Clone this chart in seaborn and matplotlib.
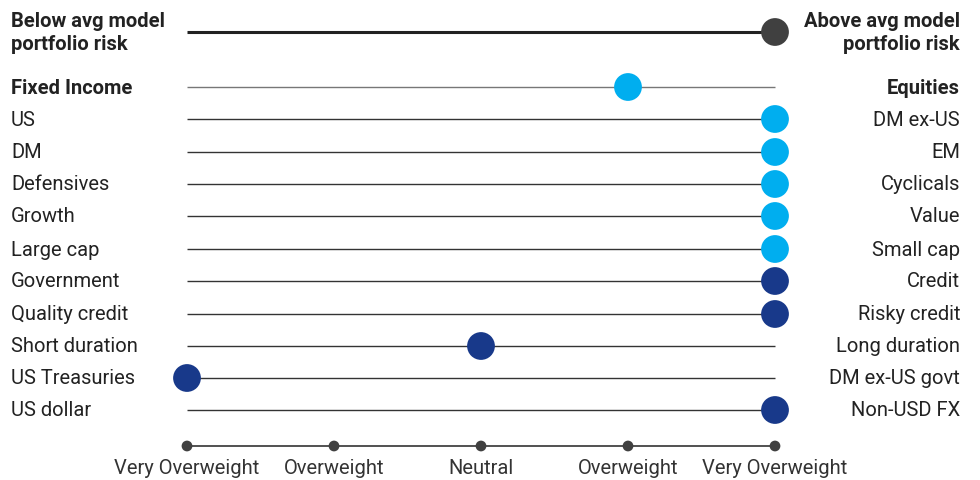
import matplotlib
matplotlib.use("Agg")
import matplotlib.pyplot as plt
import seaborn as sns
import pandas as pd

sns.set_theme(style="white")
plt.rcParams['font.family'] = ['Roboto', 'DejaVu Sans']

left_labels = ["Below avg model\nportfolio risk", "Fixed Income", "US", "DM", "Defensives", "Growth",
               "Large cap", "Government", "Quality credit", "Short duration", "US Treasuries", "US dollar"]
right_labels = ["Above avg model\nportfolio risk", "Equities", "DM ex-US", "EM", "Cyclicals", "Value",
                "Small cap", "Credit", "Risky credit", "Long duration", "DM ex-US govt", "Non-USD FX"]
values = [2, 1, 2, 2, 2, 2, 2, 2, 2, 0, -2, 2]
groups = ["risk", "asset", "asset", "asset", "asset", "asset", "asset",
          "fixed", "fixed", "fixed", "fixed", "fixed"]
tick_values = [-2, -1, 0, 1, 2]
tick_labels = ["Very Overweight", "Overweight", "Neutral", "Overweight", "Very Overweight"]

# layout (pixel rows)
row_y = [33, 88, 120, 153, 185, 217, 250, 282, 315, 347, 379, 411]
axis_y = 447
label_y = 469

palette = {"risk": "#404040", "asset": "#00AEEF", "fixed": "#18398A"}

W, H = 980, 481
fig = plt.figure(figsize=(W / 100, H / 100), dpi=100)
ax = fig.add_axes([0, 0, 1, 1])
unit = 147.0
x0 = 481.0
ax.set_xlim(-x0 / unit, (W - x0) / unit)
ax.set_ylim(H, 0)
ax.axis("off")

df = pd.DataFrame({"value": values, "y": row_y, "group": groups,
                   "left": left_labels, "right": right_labels})

# lines
for i, r in df.iterrows():
    if r.group == "risk":
        ax.hlines(r.y, -2, 2, color="#222222", lw=2.2, zorder=1)
    elif i == 1:
        ax.hlines(r.y, -2, 2, color="#777777", lw=1.0, zorder=1)
    else:
        ax.hlines(r.y, -2, 2, color="#333333", lw=1.0, zorder=1)

sns.scatterplot(data=df, x="value", y="y", hue="group", palette=palette, s=400,
                edgecolor="none", legend=False, ax=ax, zorder=3)

# bottom axis
ax.hlines(axis_y, -2, 2, color="#333333", lw=1.2, zorder=1)
axdf = pd.DataFrame({"t": tick_values, "y": [axis_y] * len(tick_values)})
sns.scatterplot(data=axdf, x="t", y="y", color="#404040", s=60, edgecolor="none",
                legend=False, ax=ax, zorder=3)
for t, lab in zip(tick_values, tick_labels):
    ax.text(t, label_y, lab, ha="center", va="center", fontsize=14.5, color="#333333")

xl = 11 / unit - x0 / unit
xr = 960 / unit - x0 / unit
for i, r in df.iterrows():
    bold = i < 2
    ax.text(xl, r.y, r.left, ha="left", va="center", fontsize=14.5,
            fontweight="bold" if bold else "normal", color="#222222", linespacing=1.3)
    ax.text(xr, r.y, r.right, ha="right", va="center", fontsize=14.5,
            fontweight="bold" if bold else "normal", color="#222222", linespacing=1.3,
            multialignment="right")

fig.savefig("out.png", dpi=100)
